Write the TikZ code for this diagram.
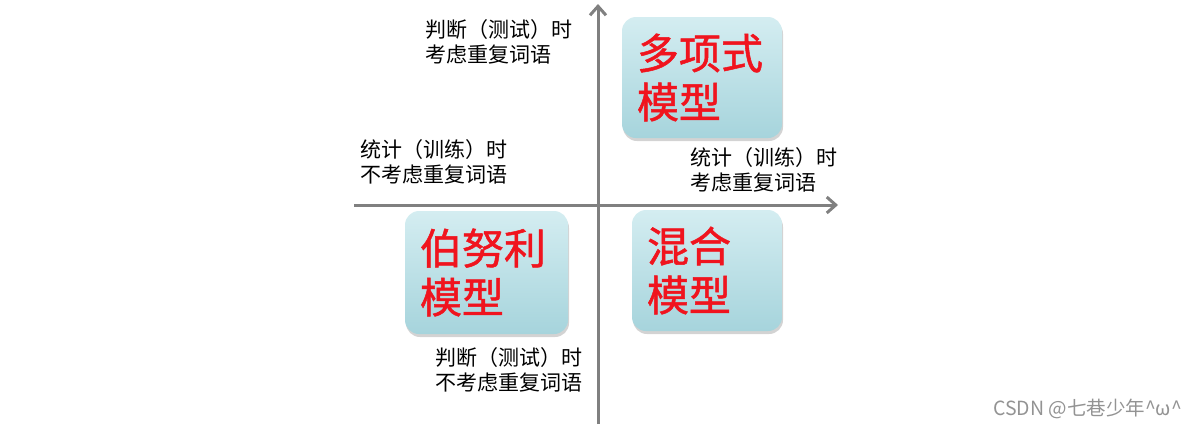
\documentclass[tikz,border=0pt]{standalone}
\usepackage{fontspec}
\newfontfamily\cjk{Noto Sans CJK SC}
\newfontfamily\cjkheavy[FakeBold=1.2]{Noto Sans CJK SC}
\usetikzlibrary{arrows.meta,shadows}

\definecolor{axisgray}{HTML}{808080}
\definecolor{boxtop}{HTML}{D4EDF1}
\definecolor{boxbottom}{HTML}{A6D4DC}
\definecolor{modelred}{HTML}{F0141E}

\tikzset{
    model/.style={rounded corners=14pt, top color=boxtop, bottom color=boxbottom,
        drop shadow={shadow xshift=1pt, shadow yshift=-3pt, opacity=0.35},
        inner xsep=15pt, inner ysep=0pt, align=left, text=modelred,
        font=\cjkheavy\fontsize{42}{49}\selectfont},
    cond/.style={anchor=north west, inner sep=0pt, align=left,
        font=\cjk\fontsize{21}{25}\selectfont},
    axis/.style={draw=axisgray, line width=3pt, -{Straight Barb[length=9pt,width=16pt,line width=3pt]}}
}

\begin{document}
\begin{tikzpicture}[x=1pt,y=-1pt]

        \useasboundingbox (0,0) rectangle (1198,429);

        % Defining the axes
        \coordinate (ybottom) at (598,424);
        \coordinate (ytop) at (598,4);
        \coordinate (xleft) at (354,205);
        \coordinate (xright) at (838,205);
        \draw[axis] (ybottom) -- (ytop);
        \draw[axis] (xleft) -- (xright);

        % Defining the models
        \node[model, minimum width=160pt, minimum height=121pt, text width=130pt] (multinomial) at (702,77.5) {多项式\\模型};
        \node[model, minimum width=163pt, minimum height=123pt, text width=133pt] (bernoulli) at (486.5,272.5) {伯努利\\模型};
        \node[model, minimum width=150pt, minimum height=121pt, text width=120pt] (mixed) at (707,270.5) {混合\\模型};

        % Conditions
        \node[cond] (testrepeat) at (425,19) {判断（测试）时\\考虑重复词语};
        \node[cond] (trainnorepeat) at (360,139) {统计（训练）时\\不考虑重复词语};
        \node[cond] (trainrepeat) at (690,147) {统计（训练）时\\考虑重复词语};
        \node[cond] (testnorepeat) at (435,347) {判断（测试）时\\不考虑重复词语};

        % Watermark
        \node[anchor=west, inner sep=0pt, text=gray!85, font=\cjk\fontsize{19.5}{22}\selectfont] (mark) at (993,409) {CSDN @七巷少年\^{}ω\^{}};

\end{tikzpicture}
\end{document}
